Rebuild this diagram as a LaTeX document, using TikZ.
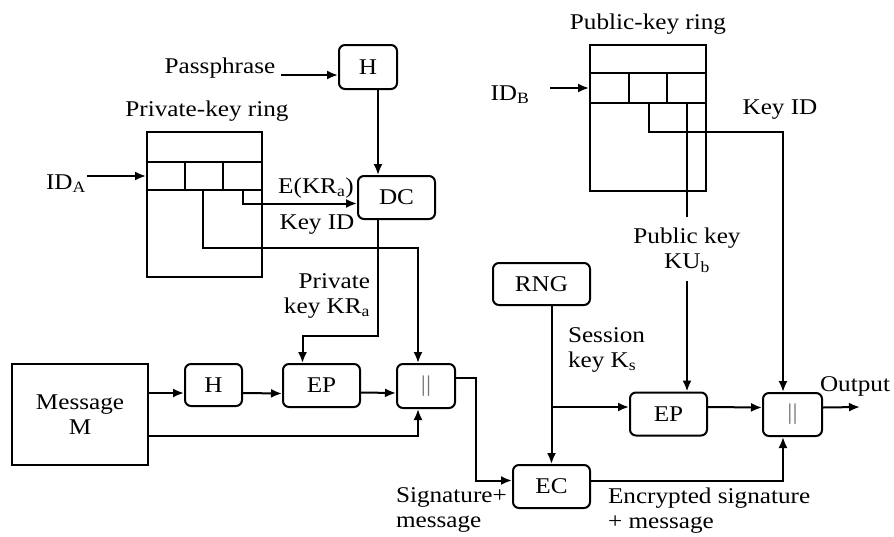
\documentclass[tikz,border=0pt]{standalone}
\usepackage{fontspec}
\setmainfont{Liberation Serif}[FakeStretch=1.12]
\usetikzlibrary{arrows.meta, calc, positioning}

\tikzset{
  blk/.style={draw, rounded corners=6pt, line width=2pt, inner sep=0pt},
  ring/.style={draw, line width=2pt, inner sep=0pt},
  lbl/.style={inner sep=0pt},
}

\begin{document}
\begin{tikzpicture}[x=1pt, y=-1pt, line width=2pt, >={Latex[length=11pt,width=9pt]},
    font=\fontsize{22.5}{25}\selectfont]
    \useasboundingbox (0,0) rectangle (894,536);

    % Sender side: passphrase and private-key ring
    \node[lbl, anchor=base] (pass) at (220,73) {Passphrase};
    \node[blk, minimum width=58, minimum height=44] (hpass) at (368,67) {H};
    \node[blk, minimum width=77, minimum height=43] (dc) at (396.5,197.5) {DC};

    \node[ring, minimum width=115, minimum height=145] (prring) at (204.5,204.5) {};
    \node[lbl] (prlbl) at (207,111) {Private-key ring};
    % Row of the ring with its three cells
    \draw (prring.west |- 0,162) -- (prring.east |- 0,162);
    \draw (prring.west |- 0,190) -- (prring.east |- 0,190);
    \draw (185,162) -- (185,190);
    \draw (223,162) -- (223,190);
    \coordinate (pr2) at (203,190);
    \coordinate (pr3) at (243,190);

    \node[lbl] (ida) at (66,184) {ID\textsubscript{A}};
    \node[lbl] (ekr) at (316,188) {E(KR\textsubscript{a})};
    \node[lbl] (prkid) at (317,225) {Key ID};
    \node[lbl, align=right] (prkey) at (327,296) {Private\\key KR\textsubscript{a}};

    \draw[->] ([yshift=8pt]ida.east) -- ([yshift=8pt]ida.east -| prring.west);
    \draw[->] ([xshift=5pt]pass.east |- 0,75) -- (hpass.west |- 0,75);
    \draw[->] ([xshift=10pt]hpass.south) -- ([xshift=10pt]hpass.south |- dc.north);
    \draw[->] (pr3) |- ([yshift=-6pt]dc.west);

    % Signing row
    \node[ring, minimum width=136, minimum height=101, align=center] (msg) at (80,414.5) {Message\\M};
    \node[blk, minimum width=57, minimum height=42] (hmsg) at (213.5,385) {H};
    \node[blk, minimum width=77, minimum height=43] (epsig) at (321.5,385.5) {EP};
    \node[blk, minimum width=58, minimum height=44] (cata) at (426,386) {\color{black!55}||};

    \draw[->] (pr2) -- ++(0,58) -| ([xshift=-8pt]cata.north);
    \draw[->] ([xshift=-18.5pt]dc.south) -- ++(0,116) -| ([xshift=-19pt]epsig.north);
    \draw[->] ([yshift=-8pt]hmsg.west -| msg.east) -- ([yshift=-8pt]hmsg.west);
    \draw[->] ([yshift=-8pt]hmsg.east) -- ([yshift=-8pt]epsig.west);
    \draw[->] ([yshift=-7pt]epsig.east) -- ([yshift=-7pt]cata.west);
    \draw[->] ([yshift=-21.5pt]msg.east) -| ([xshift=-8pt]cata.south);

    % Session key and encryption
    \node[blk, minimum width=97, minimum height=42] (rng) at (541.5,284) {RNG};
    \node[blk, minimum width=77, minimum height=43] (ec) at (551.5,486.5) {EC};
    \node[blk, minimum width=77, minimum height=43] (epkey) at (668.5,414) {EP};
    \node[blk, minimum width=59, minimum height=43] (catb) at (792.5,414.5) {\color{black!55}||};
    \node[lbl, align=left, anchor=west] (sess) at (567,350) {Session\\key K\textsubscript{s}};

    \draw[->] ([yshift=8pt]cata.east) -- ++(20,0) |- ([yshift=6pt]ec.west);
    \draw[->] (rng.south -| ec.north) -- (ec.north);
    \draw[->] ([yshift=7pt]epkey.west -| ec.north) -- ([yshift=7pt]epkey.west);
    \draw[->] ([yshift=7pt]epkey.east) -- ([yshift=7pt]catb.west);
    \draw[->] ([yshift=6pt]ec.east) -| ([xshift=-9.5pt]catb.south);
    \coordinate (outp) at (860,407);
    \draw[->] ([yshift=7pt]catb.east) -- (outp);
    \node[lbl] (outlbl) at (855,386) {Output};

    % Receiver side: public-key ring
    \node[ring, minimum width=116, minimum height=146] (puring) at (648,118) {};
    \node[lbl] (pulbl) at (648,24) {Public-key ring};
    \draw (puring.west |- 0,73) -- (puring.east |- 0,73);
    \draw (puring.west |- 0,103) -- (puring.east |- 0,103);
    \draw (629,73) -- (629,103);
    \draw (667,73) -- (667,103);
    \coordinate (pu2) at (649,103);
    \coordinate (pu3) at (687,103);

    \node[lbl] (idb) at (510,95) {ID\textsubscript{B}};
    \coordinate (idbin) at (550,88);
    \draw[->] (idbin) -- (idbin -| puring.west);
    \node[lbl] (pukid) at (780,110) {Key ID};
    \node[lbl, align=center] (pukey) at (687,250) {Public key\\KU\textsubscript{b}};

    \draw (pu3) -- ([yshift=10pt]pukey.north);
    \draw[->] ([yshift=-8pt]pukey.south) -- ([xshift=18.5pt]epkey.north);
    \draw[->] (pu2) -- ++(0,29) -| ([xshift=-9.5pt]catb.north);

    % Bottom captions
    \node[lbl, align=left, anchor=north west] (sigmsg) at (395,487) {Signature+\\message};
    \node[lbl, align=left, anchor=north west] (encmsg) at (607,487) {Encrypted signature\\+ message};
\end{tikzpicture}
\end{document}
